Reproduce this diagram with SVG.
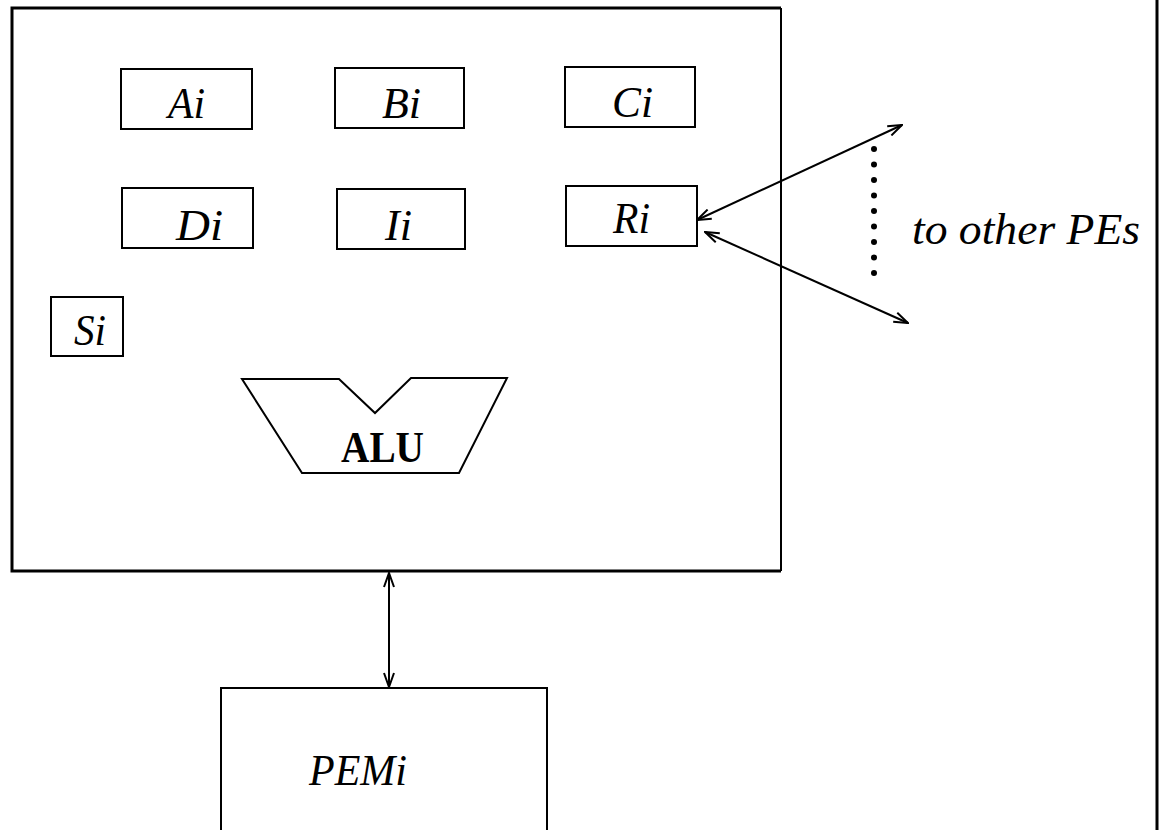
<svg xmlns="http://www.w3.org/2000/svg" width="1161" height="830" viewBox="0 0 1161 830">
<style>
.box{fill:none;stroke:#000;stroke-width:2}
.lbl{font-family:"Liberation Serif","Times New Roman",serif;font-style:italic;font-size:45px;fill:#000}
.bold{font-family:"Liberation Serif","Times New Roman",serif;font-weight:bold;font-size:44px;fill:#000}
.conn{fill:none;stroke:#000;stroke-width:2}
</style>
<defs>
<marker id="ah" viewBox="0 0 16 12" refX="15" refY="6" markerWidth="16" markerHeight="12" markerUnits="userSpaceOnUse" orient="auto-start-reverse">
<path d="M1,1 L15,6 L1,11" fill="none" stroke="#000" stroke-width="2"/>
</marker>
</defs>
<rect width="1161" height="830" fill="#fff"/>
<g id="pe">
<path d="M781,8 L12,8 L12,571 L781,571" fill="none" stroke="#000" stroke-width="3"/>
<line x1="781" y1="8" x2="781" y2="571" stroke="#000" stroke-width="2"/>
</g>
<g id="rightborder"><line x1="1157" y1="0" x2="1157" y2="830" stroke="#000" stroke-width="3"/></g>
<g id="Ai"><rect class="box" x="121" y="69" width="131" height="60"/><text class="lbl" x="168" y="118" textLength="37" lengthAdjust="spacingAndGlyphs">Ai</text></g>
<g id="Bi"><rect class="box" x="335" y="68" width="129" height="60"/><text class="lbl" x="382" y="118" textLength="39" lengthAdjust="spacingAndGlyphs">Bi</text></g>
<g id="Ci"><rect class="box" x="565" y="67" width="130" height="60"/><text class="lbl" x="612" y="117" textLength="41" lengthAdjust="spacingAndGlyphs">Ci</text></g>
<g id="Di"><rect class="box" x="122" y="188" width="131" height="60"/><text class="lbl" x="176" y="240" textLength="47" lengthAdjust="spacingAndGlyphs">Di</text></g>
<g id="Ii"><rect class="box" x="337" y="189" width="128" height="60"/><text class="lbl" x="385" y="240" textLength="27" lengthAdjust="spacingAndGlyphs">Ii</text></g>
<g id="Ri"><rect class="box" x="566" y="186" width="131" height="60"/><text class="lbl" x="613" y="233" textLength="37" lengthAdjust="spacingAndGlyphs">Ri</text></g>
<g id="Si"><rect class="box" x="51" y="297" width="72" height="59"/><text class="lbl" x="74" y="345" textLength="32" lengthAdjust="spacingAndGlyphs">Si</text></g>
<g id="ALU"><path d="M242,379 L339,379 L375,413 L411,378 L507,378 L459,473 L302,473 Z" fill="none" stroke="#000" stroke-width="2"/><text class="bold" x="341" y="462" textLength="83" lengthAdjust="spacingAndGlyphs">ALU</text></g>
<g id="PEMi"><path d="M221,830 L221,688 L547,688 L547,830" fill="none" stroke="#000" stroke-width="2"/><text class="lbl" x="309" y="785" textLength="98" lengthAdjust="spacingAndGlyphs">PEMi</text></g>
<g id="others"><text class="lbl" x="912" y="244" textLength="228" lengthAdjust="spacingAndGlyphs">to other PEs</text></g>
<g id="connectors">
<line class="conn" x1="697" y1="220" x2="902" y2="125" marker-start="url(#ah)" marker-end="url(#ah)"/>
<line class="conn" x1="705" y1="232" x2="908" y2="323" marker-start="url(#ah)" marker-end="url(#ah)"/>
<line class="conn" x1="389" y1="573" x2="389" y2="687" marker-start="url(#ah)" marker-end="url(#ah)"/>
<g fill="#000">
<circle cx="874" cy="149" r="3"/><circle cx="874" cy="164.5" r="3"/><circle cx="874" cy="180" r="3"/><circle cx="874" cy="195.5" r="3"/><circle cx="874" cy="211" r="3"/><circle cx="874" cy="226.5" r="3"/><circle cx="874" cy="242" r="3"/><circle cx="874" cy="257.5" r="3"/><circle cx="874" cy="273" r="3"/>
</g>
</g>
</svg>
